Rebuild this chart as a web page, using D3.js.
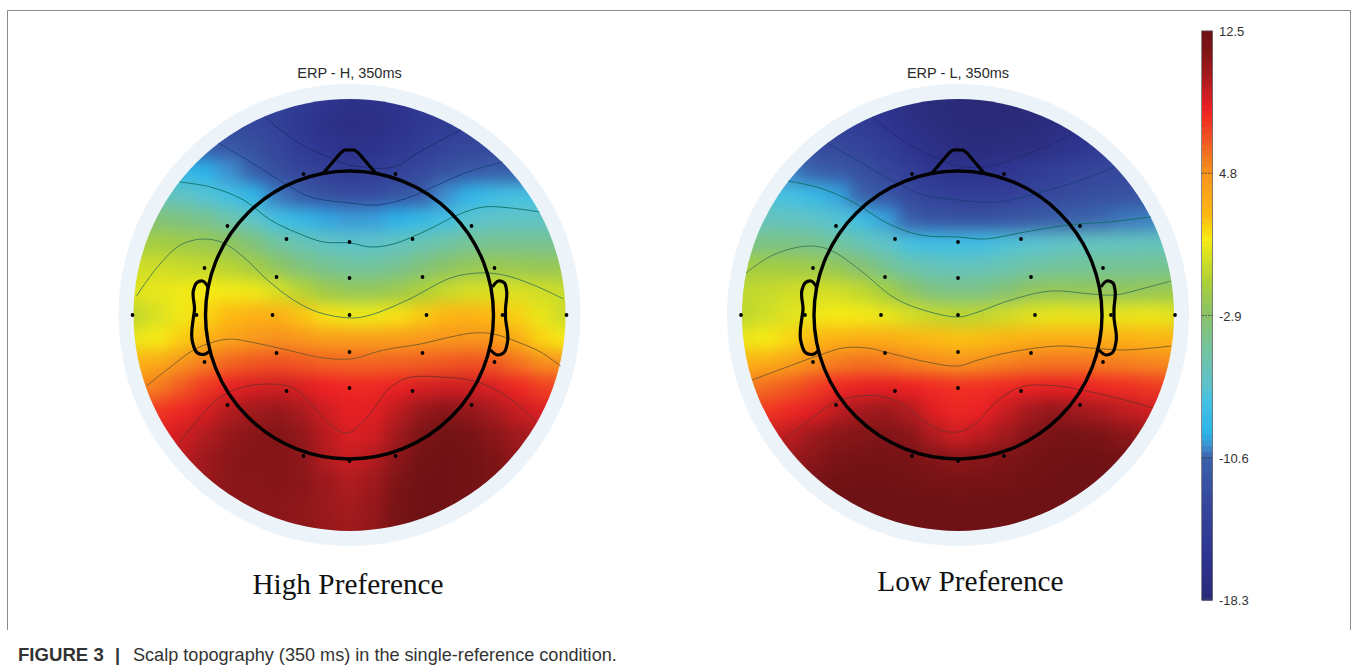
<!DOCTYPE html>
<html><head><meta charset="utf-8">
<script src="https://cdn.jsdelivr.net/npm/d3@7"></script>
<style>html,body{margin:0;padding:0;background:#fff;overflow:hidden}svg{display:block}</style>
</head><body><svg id="c" width="1357" height="666"></svg>
<script>
const gridPositions=[-216,-192,-168,-144,-120,-96,-72,-48,-24,0,24,48,72,96,120,144,168,192,216];
const valuesHigh=[
[-13,-13,-13,-13,-13,-13,-14,-15,-16,-16.5,-16.5,-16,-15,-14.5,-14,-14,-14,-14,-14],
[-12,-12,-12,-12.5,-13,-13.3,-14,-15.5,-16.8,-17.3,-17.3,-16.5,-15.5,-14.8,-14.5,-14,-14,-14,-14],
[-11,-11,-11,-11.2,-11.6,-12.3,-13.5,-14.8,-16,-16.5,-16.3,-15.5,-14.5,-13.8,-13.2,-13,-13,-13,-13],
[-8.5,-8.5,-8.8,-9.3,-10,-11,-12.5,-13.5,-14.5,-15,-14.8,-14,-13,-12.2,-11.5,-11,-11,-11,-11],
[-6,-6,-6.3,-7,-7.7,-9,-10.3,-11.3,-12.3,-12.7,-12.6,-11.8,-11,-10,-9,-8,-7.5,-7.5,-7.5],
[-3.5,-3.5,-3.8,-4.3,-5.3,-6.5,-7.7,-8.7,-9.5,-9.8,-9.7,-9.3,-8.6,-7.7,-6.8,-6.5,-6.4,-6.4,-6.4],
[-1.5,-1.5,-1.7,-2,-2.6,-3.6,-4.8,-5.7,-6.3,-6.6,-6.6,-6.2,-5.6,-5,-4.5,-4.3,-4.3,-4.3,-4.3],
[0,0,-0.2,-0.4,-0.8,-1.5,-2.6,-3.6,-4.3,-4.7,-4.7,-4.3,-3.6,-2.8,-2.3,-2,-2.1,-2.2,-2.2],
[0.5,0.8,1,1.2,1.1,1,0.3,-0.8,-1.8,-2.3,-2.3,-1.9,-1.1,-0.3,0.2,0.4,0.3,0,-0.2],
[-0.5,0.3,1,1.8,2.5,3,3,2.2,1.4,1,1,1.4,2,2.6,2.8,2.5,1.8,0.8,-0.2],
[0.8,1.2,2,3,3.8,4.5,4.9,4.5,4.2,4.1,4.1,4.2,4.4,4.6,4.7,4.4,3.2,1.8,1.2],
[3,3.5,4.8,5.5,6.2,6.6,6.8,6.6,6.3,6.2,6.2,6.3,6.4,6.6,6.8,6.6,5.8,5,4.8],
[5,5.5,6.5,7.5,8.3,8.8,9,8.7,8.2,8,8,8.3,8.8,9,9,8.7,8,7.3,7],
[7,7.5,8,8.8,9.8,10.3,10.6,10,9,8.4,8.5,9.5,10.6,11.2,10.8,10,9.2,8.7,8.5],
[8.5,8.5,9,9.8,10.6,11.1,11.3,10.8,9.6,8.7,9,10.3,11.6,12.2,11.8,11,10.3,9.8,9.5],
[9,9,9.5,10.4,11,11.3,11.3,10.9,9.8,9.2,9.7,11,12.2,12.4,12.2,11.5,10.8,10.4,10],
[9,9,9.5,10.5,11,11.1,11.2,11,10.4,9.8,10.4,11.6,12.4,12.4,12.2,11.6,11,10.5,10],
[9.5,9.5,10,10.5,11,11,11,10.9,10.5,10.1,10.7,11.9,12.4,12.4,12.2,11.6,11,10.5,10],
[10,10,10.2,10.5,10.8,10.9,11,10.9,10.6,10.3,10.8,12,12.4,12.4,12.2,11.6,11,10.5,10]];
const valuesLow=[
[-14.5,-14.5,-14.5,-14.5,-14.5,-15.5,-16.5,-17.3,-18,-18.2,-18.2,-18.2,-18,-17.8,-17,-16,-15,-15,-15],
[-14,-14,-14,-14,-14.3,-15,-16,-17,-17.7,-18,-18.2,-18.2,-18,-17.5,-17,-16,-15.5,-15,-15],
[-12,-12,-12.2,-12.6,-13,-13.8,-14.6,-16,-17,-17.6,-17.8,-17.7,-17.3,-16.8,-16,-15,-14.5,-14,-14],
[-10,-10,-10.2,-10.7,-11.4,-12.4,-13.4,-14.5,-15.8,-16.4,-16.3,-15.8,-15,-14.3,-13.7,-13.3,-13,-13,-13],
[-7,-7.2,-7.5,-8.5,-9.6,-10.7,-11.8,-13,-14,-14.5,-14.5,-14.3,-13.6,-13,-12.6,-12.3,-12,-12,-12],
[-6,-6,-6.2,-6.5,-7,-8,-9.7,-11,-11.8,-12,-12,-11.8,-11.3,-10.9,-10.7,-10.5,-10.3,-10.2,-10],
[-4,-4,-4,-4.3,-4.9,-5.8,-6.5,-7.5,-8,-7.8,-7.8,-7.2,-6.9,-6.6,-6.3,-6.2,-6.1,-6,-6],
[-1.5,-1.5,-1.6,-1.8,-2.4,-3.2,-4.4,-5.3,-5.9,-6,-5.9,-5.5,-5,-4.7,-4.6,-4.5,-4.5,-4.4,-4.4],
[-0.5,-0.3,0,0.2,0,-0.5,-1.5,-2.8,-3.8,-4,-3.9,-3.3,-2.5,-2.2,-2.4,-2.4,-2.4,-2.2,-2],
[-0.5,0,0.5,0.9,1.2,1.1,0.8,0.2,-0.4,-0.6,-0.5,0,0.5,0.8,0.8,0.8,0.8,0.9,0.6],
[0.8,1.2,1.7,2.6,3,3.2,3.2,2.8,2.5,2.3,2.4,2.8,3,3.2,3.2,3.2,3,2.8,2.8],
[3,3.3,4,5,5.5,5.8,5.7,5.3,5,4.8,5,5.3,5.6,5.7,5.7,5.5,5.4,5.2,5],
[5.5,6,6.5,7.3,8,8.3,8.4,8.2,7.9,7.7,7.8,8,8.3,8.4,8.3,8,7.8,7.5,7.3],
[7,7.5,8,8.5,9.5,10.2,10.5,9.8,8.5,8,8.3,9.2,10.2,10.8,10.3,9.9,9.4,9,8.6],
[9,9,9.5,10.5,11,11.3,11.4,11,9.8,9,9.5,10.3,11.2,11.8,11.9,11.6,11,10.5,10],
[10,10,10.5,11,11.7,12,12,11.8,11.3,11,11.2,11.5,12,12.3,12.4,12.4,12,11.5,11],
[11,11,11.5,12,12.3,12.4,12.4,12.2,12,11.8,11.9,12,12.3,12.4,12.5,12.4,12.2,12,11.5],
[12,12,12.2,12.4,12.5,12.5,12.5,12.5,12.5,12.5,12.5,12.5,12.5,12.5,12.5,12.5,12.5,12.3,12],
[12.5,12.5,12.5,12.5,12.5,12.5,12.5,12.5,12.5,12.5,12.5,12.5,12.5,12.5,12.5,12.5,12.5,12.5,12.5]];
const contoursHigh=[
[[-85,-198],[-52,-173],[-26,-160],[0,-150],[44,-148],[68,-162],[111,-185]],
[[-131,-172],[-99,-153],[-62,-130],[-39,-118],[1,-112],[28,-110],[58,-117],[88,-130],[118,-143],[153,-153]],
[[-170,-133],[-139,-128],[-106,-115],[-79,-95],[-52,-82],[-26,-73],[1,-72],[21,-68],[44,-71],[78,-85],[108,-100],[134,-108],[161,-107],[190,-103]],
[[-213,-19],[-192,-48],[-169,-70],[-146,-76],[-126,-72],[-106,-58],[-82,-35],[-56,-15],[-32,-3],[1,3],[21,0],[58,-15],[101,-37],[128,-42],[154,-40],[184,-30],[214,-16]],
[[-203,71],[-179,52],[-156,35],[-136,27],[-119,24],[-99,27],[-62,35],[-32,42],[1,44],[34,35],[71,29],[101,22],[124,18],[144,19],[168,27],[191,37],[211,51]],
[[-171,129],[-152,105],[-129,82],[-106,72],[-79,69],[-56,73],[-39,88],[-19,110],[-2,118],[18,102],[38,75],[58,63],[91,62],[128,67],[158,82],[187,107]]];
const contoursLow=[
[[-86,-198],[-51,-172],[-21,-157],[0,-149],[27,-148],[67,-160],[115,-181]],
[[-131,-172],[-98,-153],[-61,-132],[-35,-120],[0,-115],[40,-113],[80,-122],[117,-133],[157,-148]],
[[-170,-134],[-138,-127],[-105,-113],[-71,-92],[-38,-80],[0,-78],[27,-76],[67,-83],[110,-90],[150,-93],[193,-98]],
[[-212,-42],[-185,-60],[-150,-69],[-128,-65],[-98,-45],[-65,-18],[-38,-6],[0,2],[17,-2],[53,-15],[93,-24],[133,-21],[157,-20],[187,-27],[213,-34]],
[[-206,65],[-171,52],[-138,40],[-115,33],[-91,33],[-61,40],[-31,47],[0,51],[20,45],[53,37],[100,31],[133,33],[167,35],[213,31]],
[[-175,125],[-151,107],[-125,88],[-105,82],[-78,81],[-58,88],[-38,103],[-18,115],[0,117],[17,109],[33,92],[50,78],[67,71],[100,71],[133,77],[167,85],[194,93]]];
const contourColors=["#1f2a6b","#1b3f7c","#0f6f66","#3f7a55","#7a5a28","#7a2c28"];
const electrodes=[[-217,0],[217,0],[-153,0],[153,0],[-77,0],[77,0],[0,0],[-145,-47],[145,-47],[-122,-89],[122,-89],[-63,-76],[63,-76],[-73,-38],[73,-38],[-46,-141],[46,-141],[0,-73],[0,-37],[-73,38],[73,38],[-145,47],[145,47],[0,37],[0,73],[-63,76],[63,76],[-122,90],[122,90],[-46,141],[46,141],[0,146]];
const nosePoints=[[-26,-142],[-9,-162],[-5,-165],[5,-165],[9,-162],[26,-142]];
const earLeft=[[-141,-27],[-147,-34],[-153,-32],[-156,-25],[-155,-5],[-156,2],[-157,27],[-152,38],[-144,39],[-139,35]];
const earRight=[[143,-28],[149,-34],[155,-32],[157,-25],[156,-6],[156,2],[158,27],[154,38],[148,40],[141,35]];
const colorStops=[-18.3,-16,-13,-10.6,-10,-9.3,-7.5,-6.7,-4.8,-2.9,-1.2,1.2,2.5,4.8,6.5,8.2,10,11.5,12.5];
const colorValues=["#2a2a78","#2e3490","#36489c","#3a62ab","#3f8fcf","#2cb4ea","#45c1e3","#5dc3cc","#72c4a0","#8ac269","#a9cf3a","#f6eb14","#fdb913","#f7941e","#f15a22","#ee2024","#a81b1f","#7d1416","#6e1215"];
const colorbarTicks=[12.5,4.8,-2.9,-10.6,-18.3];
const heads=[
 {cx:349.5,title:"ERP - H, 350ms",label:"High Preference",labelX:348,labelY:594,values:valuesHigh,contours:contoursHigh},
 {cx:958,title:"ERP - L, 350ms",label:"Low Preference",labelX:970.5,labelY:591,values:valuesLow,contours:contoursLow}];

const svg=d3.select("#c");
const color=d3.scaleLinear().domain(colorStops).range(colorValues).clamp(true);
const sans="'Liberation Sans',Arial,sans-serif", serif="'Liberation Serif','Times New Roman',serif";
const defs=svg.append("defs");
const frame=d3.path();frame.moveTo(7.5,630);frame.lineTo(7.5,10.5);frame.lineTo(1350.5,10.5);frame.lineTo(1350.5,630);
svg.append("path").attr("d",frame.toString()).attr("fill","none").attr("stroke","#8a8a8a").attr("stroke-width",1);

const cy=315,R=216,step=24;
heads.forEach((h,k)=>{
 const x=d3.scaleLinear().domain([-216,216]).range([h.cx-216,h.cx+216]);
 const y=d3.scaleLinear().domain([-216,216]).range([cy-216,cy+216]);
 const g=svg.append("g");
 g.append("circle").attr("cx",x(0)).attr("cy",y(0)).attr("r",231).attr("fill","#ecf4f9");
 defs.append("clipPath").attr("id","clip"+k).append("circle").attr("cx",x(0)).attr("cy",y(0)).attr("r",R);
 const f=defs.append("filter").attr("id","blur"+k).attr("filterUnits","userSpaceOnUse")
  .attr("x",x(0)-320).attr("y",y(0)-320).attr("width",640).attr("height",640)
  .attr("color-interpolation-filters","sRGB");
 f.append("feGaussianBlur").attr("stdDeviation",8);
 const map=g.append("g").attr("clip-path",`url(#clip${k})`).append("g").attr("filter",`url(#blur${k})`);
 h.values.forEach((row,j)=>row.forEach((v,i)=>{
  const pad=50;
  const x0=x(gridPositions[i])-step/2-(i===0?pad:0), x1=x(gridPositions[i])+step/2+(i===row.length-1?pad:0)+.5;
  const y0=y(gridPositions[j])-step/2-(j===0?pad:0), y1=y(gridPositions[j])+step/2+(j===h.values.length-1?pad:0)+.5;
  map.append("rect").attr("x",x0).attr("y",y0).attr("width",x1-x0).attr("height",y1-y0).attr("fill",color(v));
 }));
 const line=d3.line().x(d=>x(d[0])).y(d=>y(d[1])).curve(d3.curveCatmullRom);
 h.contours.forEach((c,n)=>g.append("path").attr("d",line(c)).attr("fill","none").attr("stroke",contourColors[n]).attr("stroke-width",0.9));
 g.append("circle").attr("cx",x(0)).attr("cy",y(0)).attr("r",144).attr("fill","none").attr("stroke","#000").attr("stroke-width",3.4);
 g.append("path").attr("d",d3.line().x(d=>x(d[0])).y(d=>y(d[1]))(nosePoints)).attr("fill","none").attr("stroke","#000").attr("stroke-width",3.2).attr("stroke-linejoin","round");
 [earLeft,earRight].forEach(e=>g.append("path").attr("d",d3.line().x(d=>x(d[0])).y(d=>y(d[1])).curve(d3.curveCatmullRom.alpha(1))(e)).attr("fill","none").attr("stroke","#000").attr("stroke-width",3.2));
 g.selectAll("circle.e").data(electrodes).enter().append("circle").attr("class","e").attr("cx",d=>x(d[0])).attr("cy",d=>y(d[1])).attr("r",1.9).attr("fill","#000");
 g.append("text").attr("x",x(0)).attr("y",78).attr("text-anchor","middle").attr("font-family",sans).attr("font-size",14.5).attr("fill","#2b2b2b").text(h.title);
 svg.append("text").attr("x",h.labelX).attr("y",h.labelY).attr("text-anchor","middle").attr("font-family",serif).attr("font-size",29.3).attr("fill","#111").text(h.label);
});

// colour bar
const cbY=d3.scaleLinear().domain([12.5,-18.3]).range([31,600]);
const cb=svg.append("g");
const levels=d3.range(0,100).map(i=>12.5-(i+.5)*30.8/100);
cb.selectAll("rect").data(levels).enter().append("rect").attr("x",1202).attr("width",10.5)
 .attr("y",d=>cbY(d)-3.1).attr("height",6.6).attr("fill",d=>color(d));
cb.append("rect").attr("x",1201.5).attr("y",31).attr("width",11).attr("height",569).attr("fill","none").attr("stroke","#555").attr("stroke-width",0.7);
colorbarTicks.forEach(t=>{
 if(t<12.5&&t>-18.3) cb.append("line").attr("x1",1202).attr("x2",1212).attr("y1",cbY(t)).attr("y2",cbY(t)).attr("stroke","#333").attr("stroke-width",0.7).attr("stroke-dasharray","2,1");
 cb.append("text").attr("x",1219).attr("y",cbY(t)+5.2).attr("font-family",sans).attr("font-size",13).attr("fill","#333").text(t);
});

// caption
const cap=svg.append("text").attr("y",661).attr("font-family",sans).attr("font-size",18.1).attr("fill","#333");
cap.append("tspan").attr("x",18).attr("font-weight","bold").attr("font-size",18.6).text("FIGURE 3");
cap.append("tspan").attr("x",115).attr("font-weight","bold").text("|");
cap.append("tspan").attr("x",133).text("Scalp topography (350 ms) in the single-reference condition.");
</script></body></html>
